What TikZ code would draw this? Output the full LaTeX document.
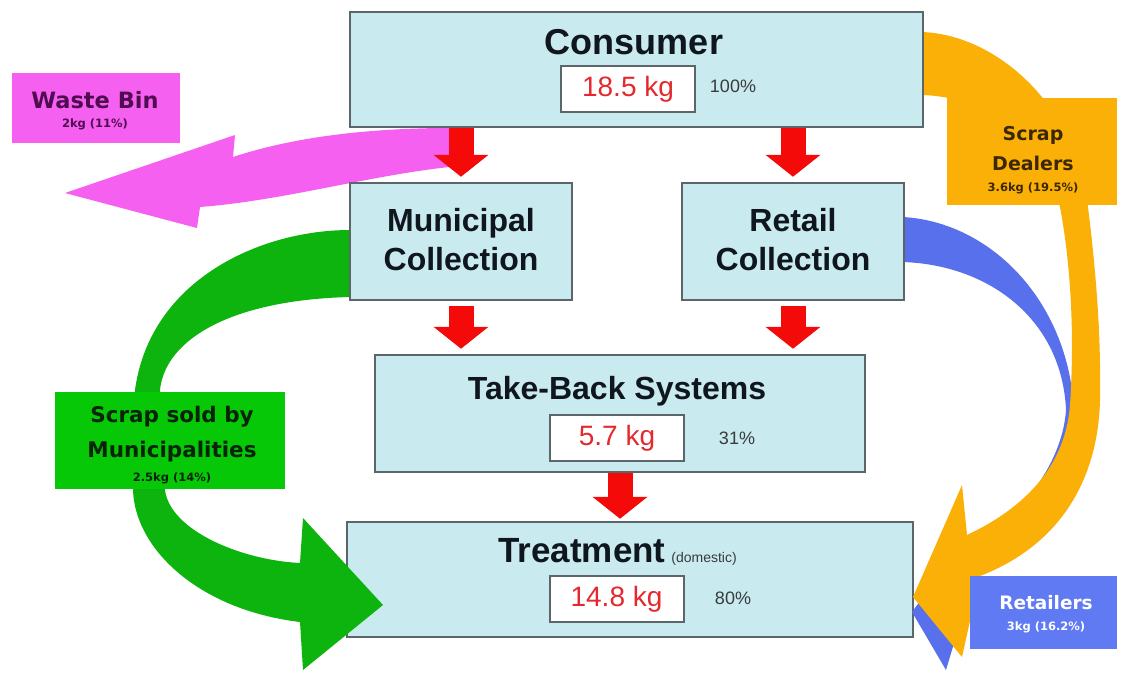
\documentclass[tikz,border=0pt]{standalone}
\usepackage{fontspec}
\setmainfont{Liberation Sans}
\newfontfamily\labfont{DejaVu Sans}
\usetikzlibrary{arrows.meta}
\definecolor{boxfill}{RGB}{201,234,238}
\definecolor{boxline}{RGB}{90,102,106}
\definecolor{redarr}{RGB}{245,10,10}
\definecolor{redtxt}{RGB}{228,40,45}
\definecolor{pctgray}{RGB}{55,60,62}
\definecolor{titletxt}{RGB}{15,22,30}
\definecolor{pinkc}{RGB}{246,96,240}
\definecolor{pinktxt}{RGB}{80,12,80}
\definecolor{greenarr}{RGB}{14,180,14}
\definecolor{greenlab}{RGB}{6,200,6}
\definecolor{greentxt}{RGB}{8,35,8}
\definecolor{orangec}{RGB}{250,176,6}
\definecolor{orangetxt}{RGB}{60,40,0}
\definecolor{bluec}{RGB}{88,112,236}
\definecolor{bluelab}{RGB}{96,122,244}
\newcommand{\fsz}[1]{\fontsize{#1}{#1}\selectfont}
\begin{document}
\begin{tikzpicture}[x=1pt,y=-1pt,
  mainbox/.style={draw=boxline, line width=2.5pt, fill=boxfill, inner sep=0pt},
  valbox/.style={draw=boxline, line width=2pt, fill=white, inner sep=0pt, minimum width=134pt, minimum height=46pt, text=redtxt, font=\fsz{28}},
  pct/.style={text=pctgray, font=\fsz{18}, inner sep=0pt},
  ttl/.style={text=titletxt, font=\bfseries\fsz{#1}, inner sep=0pt, align=center},
  redarrow/.style={draw=redarr, line width=25pt, -{Triangle[width=54pt,length=22pt]}},
  labbox/.style={inner sep=0pt, draw=none},
  labtxt/.style={font=\labfont\bfseries\fsz{#1}, inner sep=0pt},
]
\useasboundingbox[fill=white] (0,0) rectangle (1121,673);

% Treatment box (below the green arrow head)
\node[mainbox, minimum width=566pt, minimum height=115pt] (treatment) at (630,579.5) {};
\node[ttl=35] (treatmenttitle) at (617.5,552) {Treatment\,{\mdseries\fsz{14}\color{pctgray}(domestic)}};
\node[valbox] (treatmentval) at (616.5,599) {14.8 kg};
\node[pct] (treatmentpct) at (733,598) {80\%};

% Blue flow (Retailers), mostly hidden behind the orange flow
\fill[bluec] (903,217) .. controls (990,222) and (1068,300) .. (1074,410)
  .. controls (1076,460) and (1050,520) .. (980,565)
  -- (955,640) -- (946,670) -- (912,612) -- (950,560)
  .. controls (1010,530) and (1062,470) .. (1066,410)
  .. controls (1062,320) and (990,265) .. (903,262) -- cycle;

% Orange flow (Scrap dealers)
\fill[orangec] (922,32) .. controls (1000,35) and (1078,110) .. (1088,207)
  .. controls (1097,280) and (1101,340) .. (1100,400)
  .. controls (1098,480) and (1060,545) .. (980,576) -- (962,657) -- (913,597)
  -- (962,485) -- (967,535) .. controls (1020,510) and (1065,470) .. (1070,405)
  .. controls (1075,330) and (1070,260) .. (1060,207)
  .. controls (1040,140) and (990,97) .. (922,95) -- cycle;

% Pink flow (Waste bin)
\fill[pinkc] (470,128) .. controls (380,127) and (300,135) .. (233,157)
  -- (235,135) -- (65,193) -- (197,228) -- (200,207)
  .. controls (290,200) and (380,172) .. (470,165) -- cycle;

% Green flow (Scrap sold by municipalities)
\fill[greenarr] (350,230) .. controls (260,230) and (150,280) .. (135,390)
  -- (133,490) .. controls (135,550) and (200,610) .. (300,622)
  -- (303,670) -- (383,605) -- (303,518) -- (300,563)
  .. controls (240,560) and (170,530) .. (165,490)
  -- (160,390) .. controls (165,340) and (230,300) .. (350,297) -- cycle;

% Main boxes
\node[mainbox, minimum width=573pt, minimum height=115pt] (consumer) at (636.5,69.5) {};
\node[ttl=36] (consumertitle) at (634,42) {Consumer};
\node[valbox] (consumerval) at (628,89) {18.5 kg};
\node[pct] (consumerpct) at (733,86) {100\%};

\node[mainbox, minimum width=222pt, minimum height=117pt] (municipal) at (461,241.5) {};
\node[ttl=32] (municipaltitle) at (461,240) {Municipal\\[7pt]Collection};

\node[mainbox, minimum width=222pt, minimum height=117pt] (retail) at (793,241.5) {};
\node[ttl=32] (retailtitle) at (793,240) {Retail\\[7pt]Collection};

\node[mainbox, minimum width=490pt, minimum height=117pt] (takeback) at (620,413.5) {};
\node[ttl=32] (takebacktitle) at (617,391) {Take-Back Systems};
\node[valbox] (takebackval) at (617,438) {5.7 kg};
\node[pct] (takebackpct) at (737,438) {31\%};

% Side labels
\node[labbox, fill=pinkc, minimum width=168pt, minimum height=70pt] (wastebin) at (96,108) {};
\node[labtxt=22.5, text=pinktxt] (wastebintitle) at (95,100) {Waste Bin};
\node[labtxt=11.5, text=pinktxt] (wastebinval) at (95,124) {2kg (11\%)};

\node[labbox, fill=orangec, minimum width=170pt, minimum height=107pt] (dealers) at (1032,151.5) {};
\node[labtxt=19, text=orangetxt] (dealerst1) at (1033,135) {Scrap};
\node[labtxt=19, text=orangetxt] (dealerst2) at (1033,163) {Dealers};
\node[labtxt=11.5, text=orangetxt] (dealersval) at (1033,188) {3.6kg (19.5\%)};

\node[labbox, fill=greenlab, minimum width=230pt, minimum height=97pt] (munisold) at (170,440.5) {};
\node[labtxt=21.5, text=greentxt] (munisoldt1) at (172,417) {Scrap sold by};
\node[labtxt=21.5, text=greentxt] (munisoldt2) at (172,452) {Municipalities};
\node[labtxt=11.5, text=greentxt] (munisoldval) at (172,478) {2.5kg (14\%)};

\node[labbox, fill=bluelab, minimum width=147pt, minimum height=73pt] (retailers) at (1043.5,612.5) {};
\node[labtxt=18.5, text=white] (retailerstitle) at (1046,603) {Retailers};
\node[labtxt=11.5, text=white] (retailersval) at (1046,627) {3kg (16.2\%)};

% Red flow arrows
\draw[redarrow, shorten >=5pt] (consumer.south -| municipal.north) -- (municipal.north);
\draw[redarrow, shorten >=5pt] (consumer.south -| retail.north) -- (retail.north);
\draw[redarrow, shorten <=5pt, shorten >=5pt] (municipal.south) -- (municipal.south |- takeback.north);
\draw[redarrow, shorten <=5pt, shorten >=5pt] (retail.south) -- (retail.south |- takeback.north);
\draw[redarrow, shorten >=2pt] (takeback.south) -- (takeback.south |- treatment.north);
\end{tikzpicture}
\end{document}
